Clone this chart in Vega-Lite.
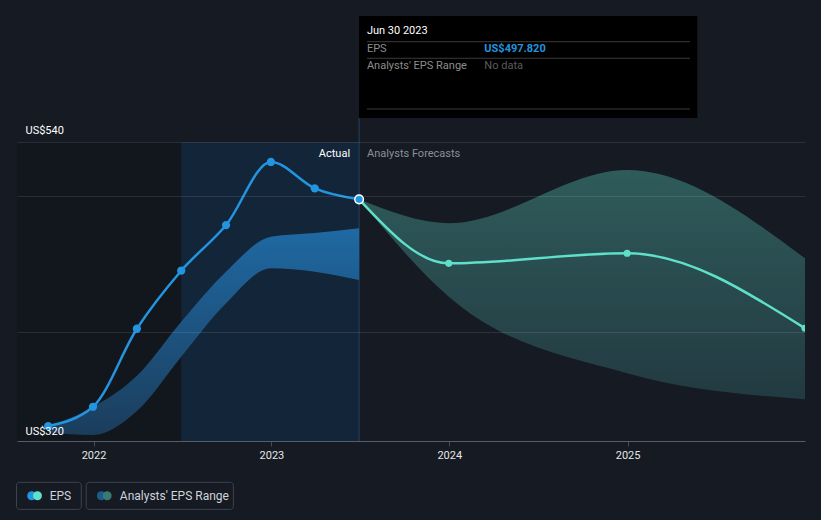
{
  "$schema": "https://vega.github.io/schema/vega-lite/v6.json",
  "width": 788,
  "height": 299,
  "autosize": {"type": "none"},
  "padding": {"left": 17, "top": 142, "right": 16, "bottom": 79},
  "background": "#151a23",
  "config": {"view": {"stroke": null}, "font": "Roboto", "text": {"font": "Roboto"}},
  "datasets": {
    "bg": [
      {"start": "2021-07-20", "end": "2022-06-30", "top": 540, "bottom": 320, "kind": "past"},
      {"start": "2022-06-30", "end": "2023-06-30", "top": 540, "bottom": 320, "kind": "recent"}
    ],
    "cursor": [{"date": "2023-06-30", "top": 557.7, "bottom": 320}],
    "actual": [
      {"date": "2021-09-30", "value": 331.0},
      {"date": "2021-12-31", "value": 345.2},
      {"date": "2022-03-31", "value": 402.6},
      {"date": "2022-06-30", "value": 445.3},
      {"date": "2022-09-30", "value": 478.9},
      {"date": "2022-12-31", "value": 525.3},
      {"date": "2023-03-31", "value": 505.9},
      {"date": "2023-06-30", "value": 497.82}
    ],
    "forecast": [
      {"date": "2023-06-30", "value": 497.82},
      {"date": "2023-12-31", "value": 450.7},
      {"date": "2024-12-31", "value": 458.1},
      {"date": "2025-12-31", "value": 402.9}
    ],
    "pastRange": [
      {"date": "2021-09-30", "low": 326.5, "high": 331.0},
      {"date": "2021-12-31", "low": 324.4, "high": 345.0},
      {"date": "2022-03-31", "low": 342.0, "high": 368.0},
      {"date": "2022-06-30", "low": 382.0, "high": 407.8},
      {"date": "2022-09-30", "low": 421.3, "high": 444.6},
      {"date": "2022-12-31", "low": 447.1, "high": 470.3},
      {"date": "2023-03-31", "low": 444.6, "high": 473.1},
      {"date": "2023-06-30", "low": 438.5, "high": 476.5}
    ],
    "fcRange": [
      {"date": "2023-06-30", "low": 497.82, "high": 497.82},
      {"date": "2023-12-31", "low": 426.2, "high": 480.3},
      {"date": "2024-12-31", "low": 369.8, "high": 519.4},
      {"date": "2025-12-31", "low": 350.7, "high": 454.4}
    ],
    "phase": [
      {"date": "2023-06-30", "value": 531, "label": "Actual"},
      {"date": "2023-06-30", "value": 531, "label": "Analysts Forecasts"}
    ],
    "tipBox": [{"x1": "2023-06-30", "x2": "2025-05-24", "top": 632.7, "bottom": 557.7}],
    "tipLines": [
      {"x1": "2023-07-16", "x2": "2025-05-09", "y": 613.8},
      {"x1": "2023-07-16", "x2": "2025-05-09", "y": 601.6},
      {"x1": "2023-07-16", "x2": "2025-05-09", "y": 564.3}
    ],
    "tipText": [
      {"date": "2023-07-16", "value": 621.7, "text": "Jun 30 2023", "role": "title"},
      {"date": "2023-07-16", "value": 608.2, "text": "EPS", "role": "label"},
      {"date": "2024-03-13", "value": 608.2, "text": "US$497.820", "role": "value"},
      {"date": "2023-07-16", "value": 595.9, "text": "Analysts' EPS Range", "role": "label"},
      {"date": "2024-03-13", "value": 595.9, "text": "No data", "role": "empty"}
    ],
    "legendBox": [
      {"x1": "2021-07-27", "x2": "2021-12-07", "top": 289.6, "bottom": 269.7},
      {"x1": "2021-12-17", "x2": "2022-10-15", "top": 289.6, "bottom": 269.7}
    ],
    "legendDot": [
      {"date": "2021-08-27", "value": 279.7, "dot": "eps1"},
      {"date": "2021-09-08", "value": 279.7, "dot": "eps2"},
      {"date": "2022-01-17", "value": 279.7, "dot": "rng1"},
      {"date": "2022-01-29", "value": 279.7, "dot": "rng2"}
    ],
    "legendText": [
      {"date": "2021-10-03", "value": 279.7, "text": "EPS"},
      {"date": "2022-02-24", "value": 279.7, "text": "Analysts' EPS Range"}
    ]
  },
  "layer": [
    {
      "data": {"name": "bg"},
      "mark": {"type": "rect", "clip": true},
      "encoding": {
        "x": {
          "field": "start", "type": "temporal", "title": null,
          "scale": {"type": "utc", "domain": [{"year": 2021, "month": 7, "date": 28, "utc": true}, {"year": 2025, "month": 12, "date": 31, "utc": true}]},
          "axis": {
            "values": [
              {"year": 2022, "month": 1, "date": 1, "utc": true},
              {"year": 2023, "month": 1, "date": 1, "utc": true},
              {"year": 2024, "month": 1, "date": 1, "utc": true},
              {"year": 2025, "month": 1, "date": 1, "utc": true}
            ],
            "format": "%Y", "grid": false, "domainColor": "#444b55", "tickColor": "#444b55",
            "tickSize": 5, "labelPadding": 3, "labelColor": "#e6e6e6", "labelFontSize": 11,
            "labelFont": "Roboto", "labelFlush": false, "labelOverlap": false
          }
        },
        "x2": {"field": "end"},
        "y": {
          "field": "top", "type": "quantitative", "title": null,
          "scale": {"domain": [320, 540], "zero": false, "nice": false},
          "axis": {
            "values": [320, 400, 500, 540], "domain": false, "ticks": false, "tickSize": 0,
            "grid": true, "gridColor": "#ffffff", "gridOpacity": 0.1, "zindex": 1,
            "labelExpr": "datum.value == 540 || datum.value == 320 ? 'US$' + datum.value : ''",
            "labelAlign": "left", "labelPadding": -8, "labelBaseline": "alphabetic",
            "labelOffset": {"condition": {"test": "datum.value == 540", "value": -9}, "value": -7},
            "labelColor": "#ffffff", "labelFontSize": 11, "labelFont": "Roboto",
            "labelOverlap": false, "labelFlush": false
          }
        },
        "y2": {"field": "bottom"},
        "color": {"field": "kind", "type": "nominal", "scale": {"domain": ["past", "recent"], "range": ["#12161d", "#132539"]}, "legend": null}
      }
    },
    {
      "data": {"name": "cursor"},
      "mark": {"type": "rule", "color": "#24445f", "strokeWidth": 1},
      "encoding": {
        "x": {"field": "date", "type": "temporal", "title": null},
        "y": {"field": "top", "type": "quantitative", "title": null},
        "y2": {"field": "bottom"}
      }
    },
    {
      "data": {"name": "pastRange"},
      "mark": {
        "type": "area", "interpolate": "monotone",
        "color": {"gradient": "linear", "x1": 0, "y1": 0, "x2": 0, "y2": 1,
          "stops": [{"offset": 0, "color": "#1f69a3"}, {"offset": 1, "color": "#1b3d5c"}]}
      },
      "encoding": {
        "x": {"field": "date", "type": "temporal", "title": null},
        "y": {"field": "high", "type": "quantitative", "title": null},
        "y2": {"field": "low"}
      }
    },
    {
      "data": {"name": "fcRange"},
      "mark": {
        "type": "area", "interpolate": "monotone", "clip": true,
        "color": {"gradient": "linear", "x1": 0, "y1": 0, "x2": 0, "y2": 1,
          "stops": [{"offset": 0, "color": "#2f5b5b"}, {"offset": 1, "color": "#223a41"}]}
      },
      "encoding": {
        "x": {"field": "date", "type": "temporal", "title": null},
        "y": {"field": "high", "type": "quantitative", "title": null},
        "y2": {"field": "low"}
      }
    },
    {
      "data": {"name": "actual"},
      "mark": {"type": "line", "interpolate": "monotone", "color": "#2394df", "strokeWidth": 2.5},
      "encoding": {
        "x": {"field": "date", "type": "temporal", "title": null},
        "y": {"field": "value", "type": "quantitative", "title": null}
      }
    },
    {
      "data": {"name": "forecast"},
      "mark": {"type": "line", "interpolate": "monotone", "color": "#5ee0c9", "strokeWidth": 2.5, "clip": true},
      "encoding": {
        "x": {"field": "date", "type": "temporal", "title": null},
        "y": {"field": "value", "type": "quantitative", "title": null}
      }
    },
    {
      "data": {"name": "actual"},
      "mark": {"type": "point", "filled": true, "size": 68, "color": "#2394df", "opacity": 1},
      "encoding": {
        "x": {"field": "date", "type": "temporal", "title": null},
        "y": {"field": "value", "type": "quantitative", "title": null}
      }
    },
    {
      "data": {"name": "forecast"},
      "transform": [{"filter": "datum.value != 497.82"}],
      "mark": {"type": "point", "filled": true, "size": 50, "color": "#5ee0c9", "opacity": 1, "clip": true},
      "encoding": {
        "x": {"field": "date", "type": "temporal", "title": null},
        "y": {"field": "value", "type": "quantitative", "title": null}
      }
    },
    {
      "data": {"name": "actual"},
      "transform": [{"filter": "datum.value == 497.82"}],
      "mark": {"type": "point", "filled": true, "size": 75, "fill": "#2394df", "stroke": "#ffffff", "strokeWidth": 1.5, "opacity": 1},
      "encoding": {
        "x": {"field": "date", "type": "temporal", "title": null},
        "y": {"field": "value", "type": "quantitative", "title": null}
      }
    },
    {
      "data": {"name": "phase"},
      "transform": [{"filter": "datum.label == 'Actual'"}],
      "mark": {"type": "text", "align": "right", "baseline": "middle", "dx": -9, "fontSize": 11, "color": "#ffffff"},
      "encoding": {
        "x": {"field": "date", "type": "temporal", "title": null},
        "y": {"field": "value", "type": "quantitative", "title": null},
        "text": {"field": "label"}
      }
    },
    {
      "data": {"name": "phase"},
      "transform": [{"filter": "datum.label != 'Actual'"}],
      "mark": {"type": "text", "align": "left", "baseline": "middle", "dx": 8, "fontSize": 11, "color": "#8a9099"},
      "encoding": {
        "x": {"field": "date", "type": "temporal", "title": null},
        "y": {"field": "value", "type": "quantitative", "title": null},
        "text": {"field": "label"}
      }
    },
    {
      "data": {"name": "tipBox"},
      "mark": {"type": "rect", "color": "#000000"},
      "encoding": {
        "x": {"field": "x1", "type": "temporal", "title": null},
        "x2": {"field": "x2"},
        "y": {"field": "top", "type": "quantitative", "title": null},
        "y2": {"field": "bottom"}
      }
    },
    {
      "data": {"name": "tipLines"},
      "mark": {"type": "rule", "color": "#3a3a3a", "strokeWidth": 1},
      "encoding": {
        "x": {"field": "x1", "type": "temporal", "title": null},
        "x2": {"field": "x2"},
        "y": {"field": "y", "type": "quantitative", "title": null}
      }
    },
    {
      "data": {"name": "tipText"},
      "transform": [{"filter": "datum.role == 'title'"}],
      "mark": {"type": "text", "align": "left", "baseline": "middle", "fontSize": 11, "color": "#ffffff"},
      "encoding": {
        "x": {"field": "date", "type": "temporal", "title": null},
        "y": {"field": "value", "type": "quantitative", "title": null},
        "text": {"field": "text"}
      }
    },
    {
      "data": {"name": "tipText"},
      "transform": [{"filter": "datum.role == 'label'"}],
      "mark": {"type": "text", "align": "left", "baseline": "middle", "fontSize": 11, "color": "#8c8c8c"},
      "encoding": {
        "x": {"field": "date", "type": "temporal", "title": null},
        "y": {"field": "value", "type": "quantitative", "title": null},
        "text": {"field": "text"}
      }
    },
    {
      "data": {"name": "tipText"},
      "transform": [{"filter": "datum.role == 'value'"}],
      "mark": {"type": "text", "align": "left", "baseline": "middle", "fontSize": 11, "fontWeight": "bold", "color": "#2394df"},
      "encoding": {
        "x": {"field": "date", "type": "temporal", "title": null},
        "y": {"field": "value", "type": "quantitative", "title": null},
        "text": {"field": "text"}
      }
    },
    {
      "data": {"name": "tipText"},
      "transform": [{"filter": "datum.role == 'empty'"}],
      "mark": {"type": "text", "align": "left", "baseline": "middle", "fontSize": 11, "color": "#5c5c5c"},
      "encoding": {
        "x": {"field": "date", "type": "temporal", "title": null},
        "y": {"field": "value", "type": "quantitative", "title": null},
        "text": {"field": "text"}
      }
    },
    {
      "data": {"name": "legendBox"},
      "mark": {"type": "rect", "fill": "#151a23", "stroke": "#3d4450", "strokeWidth": 1, "cornerRadius": 3},
      "encoding": {
        "x": {"field": "x1", "type": "temporal", "title": null},
        "x2": {"field": "x2"},
        "y": {"field": "top", "type": "quantitative", "title": null},
        "y2": {"field": "bottom"}
      }
    },
    {
      "data": {"name": "legendDot"},
      "transform": [{"filter": "datum.dot == 'eps1'"}],
      "mark": {"type": "point", "filled": true, "size": 80, "color": "#2394df", "opacity": 1},
      "encoding": {
        "x": {"field": "date", "type": "temporal", "title": null},
        "y": {"field": "value", "type": "quantitative", "title": null}
      }
    },
    {
      "data": {"name": "legendDot"},
      "transform": [{"filter": "datum.dot == 'eps2'"}],
      "mark": {"type": "point", "filled": true, "size": 80, "color": "#5ee0c9", "opacity": 1},
      "encoding": {
        "x": {"field": "date", "type": "temporal", "title": null},
        "y": {"field": "value", "type": "quantitative", "title": null}
      }
    },
    {
      "data": {"name": "legendDot"},
      "transform": [{"filter": "datum.dot == 'rng1'"}],
      "mark": {"type": "point", "filled": true, "size": 80, "color": "#1e5b8b", "opacity": 1},
      "encoding": {
        "x": {"field": "date", "type": "temporal", "title": null},
        "y": {"field": "value", "type": "quantitative", "title": null}
      }
    },
    {
      "data": {"name": "legendDot"},
      "transform": [{"filter": "datum.dot == 'rng2'"}],
      "mark": {"type": "point", "filled": true, "size": 80, "color": "#3a7a74", "opacity": 1},
      "encoding": {
        "x": {"field": "date", "type": "temporal", "title": null},
        "y": {"field": "value", "type": "quantitative", "title": null}
      }
    },
    {
      "data": {"name": "legendText"},
      "mark": {"type": "text", "align": "left", "baseline": "middle", "fontSize": 12, "color": "#d0d3d9"},
      "encoding": {
        "x": {"field": "date", "type": "temporal", "title": null},
        "y": {"field": "value", "type": "quantitative", "title": null},
        "text": {"field": "text"}
      }
    }
  ]
}
